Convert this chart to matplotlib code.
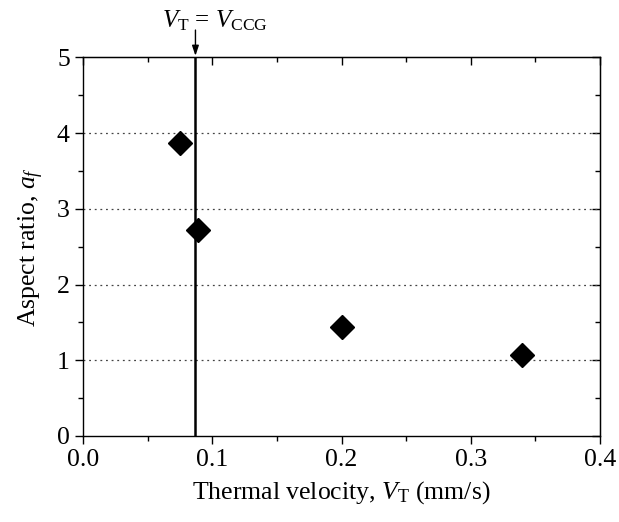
import matplotlib
matplotlib.use("Agg")
import matplotlib.pyplot as plt
from matplotlib.ticker import MultipleLocator

# data
velocity = [0.075, 0.089, 0.200, 0.340]
aspect = [3.87, 2.72, 1.44, 1.07]
v_ccg = 0.087
grid_levels = [1, 2, 3, 4]

plt.rcParams["font.family"] = ["Liberation Serif", "DejaVu Serif"]
plt.rcParams["mathtext.fontset"] = "custom"
plt.rcParams["mathtext.rm"] = "Liberation Serif"
plt.rcParams["mathtext.it"] = "Liberation Serif:italic"

fig = plt.figure(figsize=(6.19, 5.22), dpi=100)
ax = fig.add_axes([0.1341, 0.1648, 0.8352, 0.7254])

for g in grid_levels:
    ax.axhline(g, color="#444444", lw=0.9, ls=(0, (1.5, 3)), zorder=1)

ax.axvline(v_ccg, color="black", lw=1.8, zorder=2)
ax.plot(velocity, aspect, ls="none", marker="D", ms=12, color="black", zorder=3)

ax.set_xlim(0, 0.4)
ax.set_ylim(0, 5)
ax.xaxis.set_major_locator(MultipleLocator(0.1))
ax.xaxis.set_minor_locator(MultipleLocator(0.05))
ax.yaxis.set_major_locator(MultipleLocator(1))
ax.yaxis.set_minor_locator(MultipleLocator(0.5))
ax.xaxis.set_major_formatter(matplotlib.ticker.FormatStrFormatter("%.1f"))

for side in ax.spines.values():
    side.set_linewidth(1.0)

ax.tick_params(which="both", direction="out", bottom=True, left=True,
               top=False, right=False, width=1.0, labelsize=18.5)
ax.tick_params(which="major", length=6)
ax.tick_params(which="minor", length=3.5)

# inward ticks on top and right (mirror axes)
axt = ax.secondary_xaxis("top")
axt.xaxis.set_major_locator(MultipleLocator(0.1))
axt.xaxis.set_minor_locator(MultipleLocator(0.05))
axt.tick_params(which="both", direction="in", labeltop=False, width=1.0)
axt.tick_params(which="major", length=6)
axt.tick_params(which="minor", length=3.5)
axr = ax.secondary_yaxis("right")
axr.yaxis.set_major_locator(MultipleLocator(1))
axr.yaxis.set_minor_locator(MultipleLocator(0.5))
axr.tick_params(which="both", direction="in", labelright=False, width=1.0)
axr.tick_params(which="major", length=6)
axr.tick_params(which="minor", length=3.5)

ax.set_xlabel(r"Thermal velocity, $V_\mathrm{T}$ (mm/s)", fontsize=18.5, labelpad=6)
ax.set_ylabel(r"Aspect ratio, $a_f$", fontsize=18.5, labelpad=8)

ax.annotate("", xy=(v_ccg, 5.02), xytext=(v_ccg, 5.36), annotation_clip=False,
            arrowprops=dict(arrowstyle="-|>,head_length=0.6,head_width=0.2",
                            color="black", lw=1.0, shrinkA=0, shrinkB=0))
ax.text(0.0615, 5.40, r"$V_\mathrm{T}$ = $V_\mathrm{CCG}$", fontsize=18,
        ha="left", va="baseline", clip_on=False)

fig.savefig("out.png", dpi=100)
